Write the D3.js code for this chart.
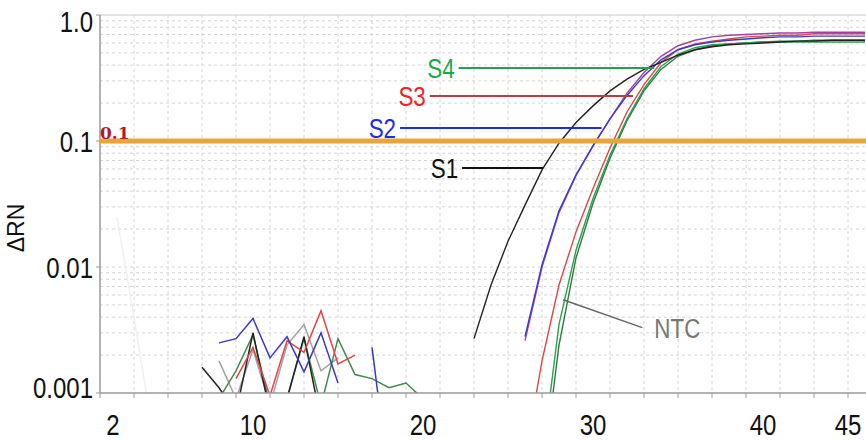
<!DOCTYPE html>
<html>
<head>
<meta charset="utf-8">
<script src="https://cdn.jsdelivr.net/npm/d3@7"></script>
<style>
  body { margin: 0; background: #fff; }
  text { font-family: "Liberation Sans Narrow", "Arial Narrow", "Liberation Sans", sans-serif; }
</style>
</head>
<body>
<div id="chart"></div>
<script>
// amplification curves (cycle -> delta RN)
var cyclesS1 = [23, 24, 25, 26, 27, 28, 29, 30, 31, 32, 33, 34, 35, 36, 37, 38, 39, 40, 41, 42, 43, 44, 45, 46];
var valuesS1 = [0.0027, 0.0072, 0.016, 0.031, 0.059, 0.096, 0.14, 0.19, 0.25, 0.31, 0.37, 0.42, 0.48, 0.53, 0.56, 0.58, 0.59, 0.60, 0.61, 0.62, 0.62, 0.63, 0.63, 0.63];

var cyclesS2 = [26, 27, 28, 29, 30, 31, 32, 33, 34, 35, 36, 37, 38, 39, 40, 41, 42, 43, 44, 45, 46];
var valuesS2 = [0.0028, 0.0104, 0.028, 0.054, 0.092, 0.15, 0.23, 0.33, 0.44, 0.53, 0.58, 0.61, 0.63, 0.645, 0.66, 0.67, 0.67, 0.68, 0.68, 0.68, 0.68];
var valuesS2b = [0.0026, 0.0100, 0.027, 0.053, 0.091, 0.15, 0.24, 0.35, 0.47, 0.57, 0.63, 0.67, 0.69, 0.70, 0.71, 0.72, 0.72, 0.73, 0.73, 0.73, 0.73];

var cyclesS3 = [26, 27, 28, 29, 30, 31, 32, 33, 34, 35, 36, 37, 38, 39, 40, 41, 42, 43, 44, 45, 46];
var valuesS3 = [0.0003, 0.0018, 0.0072, 0.019, 0.042, 0.088, 0.17, 0.28, 0.42, 0.53, 0.59, 0.62, 0.645, 0.67, 0.68, 0.69, 0.69, 0.71, 0.71, 0.71, 0.71];

var cyclesS4 = [27, 28, 29, 30, 31, 32, 33, 34, 35, 36, 37, 38, 39, 40, 41, 42, 43, 44, 45, 46];
var valuesS4 = [0.0003, 0.0035, 0.0136, 0.035, 0.077, 0.15, 0.26, 0.39, 0.49, 0.55, 0.58, 0.59, 0.60, 0.61, 0.61, 0.61, 0.61, 0.61, 0.61, 0.61];
var valuesS4b = [0.0002, 0.0024, 0.0118, 0.032, 0.073, 0.145, 0.25, 0.37, 0.47, 0.53, 0.57, 0.59, 0.60, 0.61, 0.62, 0.62, 0.63, 0.63, 0.63, 0.63];

// background noise below threshold
var noiseBlue = { cycles: [8, 9, 10, 11, 12, 13, 14, 15], values: [0.0025, 0.0027, 0.0039, 0.0019, 0.0028, 0.00147, 0.003, 0.0012] };
var noiseBlue2 = { cycles: [17, 18], values: [0.0023, 0.0002] };
var noiseRed = { cycles: [9, 10, 11, 12, 13, 14, 15, 16], values: [0.0013, 0.0023, 0.00095, 0.0026, 0.0021, 0.0045, 0.0017, 0.002] };
var noiseBlack = { cycles: [7, 8, 9, 10, 11, 12, 13, 14], values: [0.0016, 0.0011, 0.0007, 0.003, 0.0007, 0.0009, 0.0028, 0.0006] };
var noiseGreen = { cycles: [8, 9, 10, 11, 12, 13, 14, 15, 16, 17, 18, 19, 20, 21], values: [0.0009, 0.0015, 0.0029, 0.0008, 0.0009, 0.0027, 0.0008, 0.0027, 0.0014, 0.0013, 0.0011, 0.0012, 0.0009, 0.0008] };
var noiseGray = { cycles: [8, 9, 10, 11, 12, 13, 14, 15], values: [0.0018, 0.0009, 0.0022, 0.0008, 0.0024, 0.0035, 0.0015, 0.0019] };
var faintTrace = { cycles: [2, 3, 4], values: [0.025, 0.004, 0.0006] };

var xTickLabels = [2, 10, 20, 30, 40, 45];
var yTickValues = [1, 0.1, 0.01, 0.001];
var yTickLabels = ["1.0", "0.1", "0.01", "0.001"];
var threshold = 0.1;

// sample labels: name, level, start cycle, end cycle
var labelNames = ["S4", "S3", "S2", "S1"];
var labelLevels = [0.38, 0.228, 0.127, 0.061];
var labelStart = [22.1, 20.4, 18.65, 22.3];
var labelEnd = [33.6, 32.35, 30.5, 27.06];
var labelColors = ["#1aa84a", "#e8262a", "#1a2ee6", "#111"];
var labelLineColors = ["#21a04f", "#c0393d", "#1a30e8", "#111"];

var width = 866, height = 441;
var plot = { left: 100, right: 866, top: 15, bottom: 393 };

var svg = d3.select("#chart").append("svg")
  .attr("width", width)
  .attr("height", height);

var x = d3.scaleLinear().domain([1, 45]).range([100, 848]);
var y = d3.scaleLog().domain([0.001, 1]).range([plot.bottom, plot.top]);

// condensed text: the narrow face is not installed, so squeeze it
function narrowText(parent, px, py, str, anchor, size, color) {
  return parent.append("g")
    .attr("transform", "translate(" + px + "," + py + ") scale(0.8,1)")
    .append("text")
    .attr("text-anchor", anchor)
    .attr("font-size", size)
    .attr("fill", color)
    .text(str);
}

svg.append("clipPath").attr("id", "clip")
  .append("rect")
  .attr("x", plot.left).attr("y", plot.top)
  .attr("width", plot.right - plot.left).attr("height", plot.bottom - plot.top);

// grid
var grid = svg.append("g").attr("stroke", "#d4d4d4").attr("stroke-dasharray", "3,3").attr("stroke-width", 1);
grid.selectAll(".vg")
  .data(d3.range(3, 47, 2))
  .enter().append("line")
  .attr("x1", d => x(d)).attr("x2", d => x(d))
  .attr("y1", plot.top).attr("y2", plot.bottom);
grid.selectAll(".hg")
  .data(y.ticks().filter(d => d < 1 && d > 0.001))
  .enter().append("line")
  .attr("x1", plot.left).attr("x2", plot.right)
  .attr("y1", d => y(d)).attr("y2", d => y(d));

// frame
svg.append("line").attr("x1", plot.left).attr("x2", plot.right).attr("y1", plot.top).attr("y2", plot.top)
  .attr("stroke", "#c8c8c8");

var line = d3.line()
  .x(d => x(d[0]))
  .y(d => y(d[1]));

var curves = svg.append("g").attr("clip-path", "url(#clip)").attr("fill", "none");

function addCurve(cycles, values, color, w) {
  curves.append("path")
    .datum(d3.zip(cycles, values))
    .attr("d", line)
    .attr("stroke", color)
    .attr("stroke-width", w || 1.4);
}

// noise
addCurve(faintTrace.cycles, faintTrace.values, "#f0f0f0", 1.5);
addCurve(noiseGray.cycles, noiseGray.values, "#a8a0a0", 1.5);
addCurve(noiseGreen.cycles, noiseGreen.values, "#3f8a4a", 1.5);
addCurve(noiseBlack.cycles, noiseBlack.values, "#222", 1.5);
addCurve(noiseRed.cycles, noiseRed.values, "#e0454a", 1.5);
addCurve(noiseBlue.cycles, noiseBlue.values, "#3a3ac0", 1.5);
addCurve(noiseBlue2.cycles, noiseBlue2.values, "#3a3ac0", 1.5);

// amplification
addCurve(cyclesS2, valuesS2b, "#a040a8");
addCurve(cyclesS4, valuesS4b, "#2e7a3c");
addCurve(cyclesS4, valuesS4, "#2aa050");
addCurve(cyclesS3, valuesS3, "#d84848");
addCurve(cyclesS2, valuesS2, "#3a3ad0");
addCurve(cyclesS1, valuesS1, "#222");

// axes
svg.append("line").attr("x1", plot.left).attr("x2", plot.left).attr("y1", plot.top).attr("y2", plot.bottom)
  .attr("stroke", "#999").attr("stroke-width", 1.5);
svg.append("line").attr("x1", plot.left).attr("x2", plot.right).attr("y1", plot.bottom).attr("y2", plot.bottom)
  .attr("stroke", "#999").attr("stroke-width", 1.5);
svg.append("g").selectAll("line")
  .data(d3.range(1, 47, 2))
  .enter().append("line")
  .attr("x1", d => x(d)).attr("x2", d => x(d))
  .attr("y1", plot.bottom).attr("y2", plot.bottom + 5)
  .attr("stroke", "#999");
svg.append("g").selectAll("line")
  .data(yTickValues)
  .enter().append("line")
  .attr("x1", plot.left - 4).attr("x2", plot.left)
  .attr("y1", d => y(d)).attr("y2", d => y(d))
  .attr("stroke", "#999");

// threshold
svg.append("line")
  .attr("x1", plot.left).attr("x2", plot.right)
  .attr("y1", y(threshold)).attr("y2", y(threshold))
  .attr("stroke", "#eba43a").attr("stroke-width", 5);
svg.append("text")
  .attr("x", plot.left).attr("y", y(threshold) - 2)
  .attr("fill", "#b01c24")
  .attr("font-size", 17).attr("font-weight", "bold")
  .style("font-family", "'DejaVu Serif', 'Liberation Serif', serif")
  .text("0.1");

// tick labels
var yLab = svg.append("g");
yTickValues.forEach(function (d, i) {
  narrowText(yLab, 93, Math.min(Math.max(y(d), 21), 387) + 11, yTickLabels[i], "end", 30, "#111");
});

var xLab = svg.append("g");
xTickLabels.forEach(function (d) {
  narrowText(xLab, d == 2 ? x(d) - 4 : x(d), 435, d, "middle", 30, "#111");
});

svg.append("text")
  .attr("transform", "translate(24,228) rotate(-90)")
  .attr("text-anchor", "middle")
  .attr("font-size", 23).attr("fill", "#111")
  .text("ΔRN");

// sample labels
labelNames.forEach(function (name, i) {
  svg.append("line")
    .attr("x1", x(labelStart[i])).attr("x2", x(labelEnd[i]))
    .attr("y1", y(labelLevels[i])).attr("y2", y(labelLevels[i]))
    .attr("stroke", labelLineColors[i]).attr("stroke-width", 2);
  narrowText(svg, x(labelStart[i]) - 4, y(labelLevels[i]) + 10, name, "end", 28, labelColors[i]);
});

// NTC callout
svg.append("line")
  .attr("x1", x(28.24)).attr("y1", y(0.0055))
  .attr("x2", x(32.9)).attr("y2", y(0.0033))
  .attr("stroke", "#666").attr("stroke-width", 1.5);
narrowText(svg, x(32.9) + 12, y(0.0033) + 10, "NTC", "start", 28, "#777");
</script>
</body>
</html>
